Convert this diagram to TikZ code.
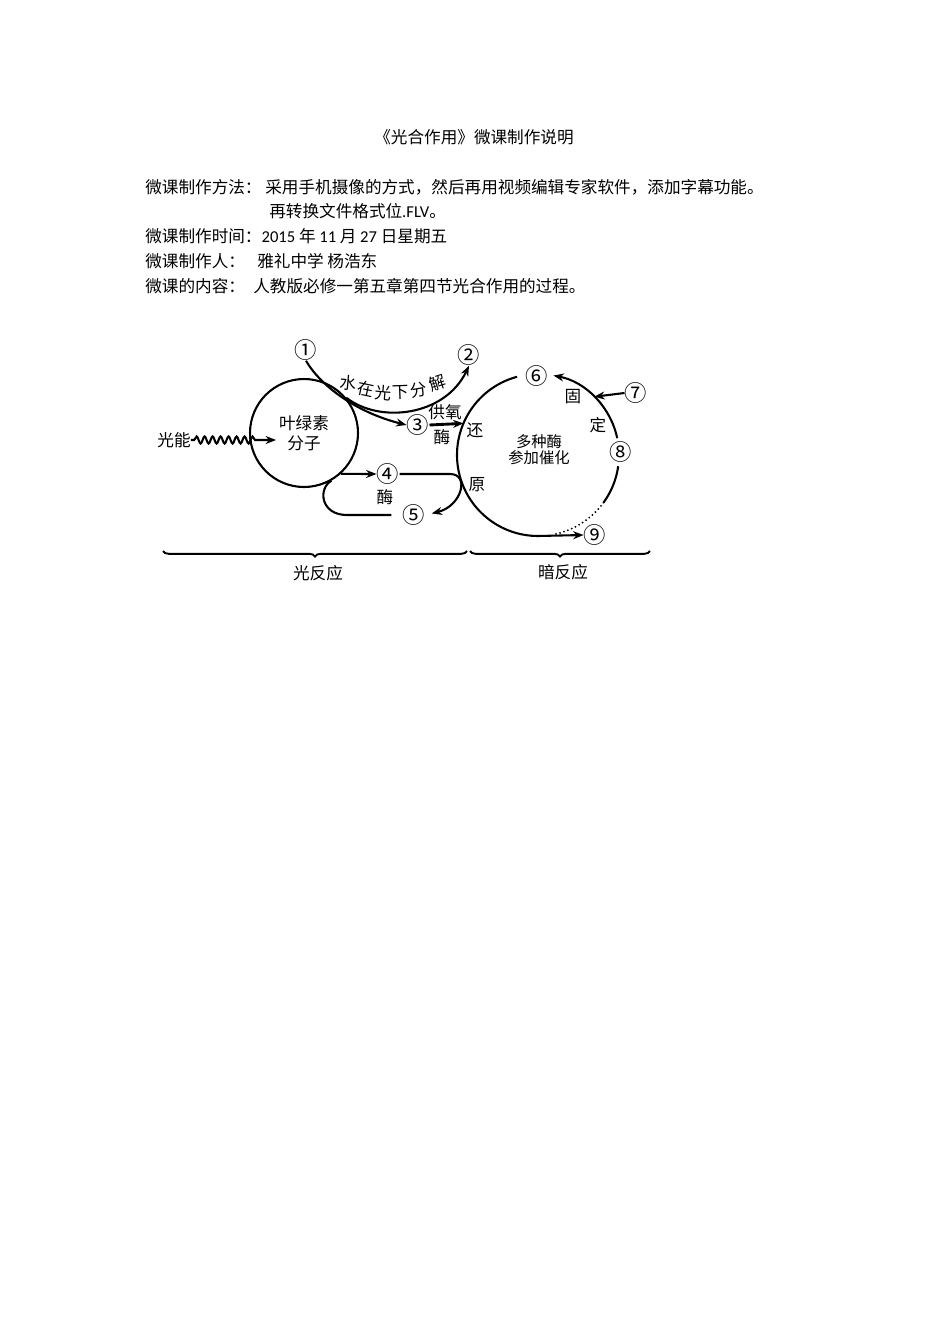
\documentclass[tikz,border=0pt]{standalone}
\usepackage{fontspec}
\setmainfont{Carlito}
\newfontfamily\cjk{Noto Sans CJK SC}
\usetikzlibrary{arrows.meta, decorations.pathmorphing, decorations.pathreplacing, positioning, calc}

\begin{document}
\begin{tikzpicture}[
    x=0.626pt, y=-0.626pt,
    every node/.style={font=\cjk\fontsize{10.4}{12.5}\selectfont, inner sep=0pt},
    line/.style={line width=1.3pt},
    arr/.style={line width=1.3pt, -{Stealth[length=6.5pt, width=5pt]}},
    num/.style={font=\cjk\fontsize{14}{14}\selectfont},
    txt/.style={anchor=west},
    small/.style={font=\cjk\fontsize{9.6}{10}\selectfont, align=center}
]
    \fill[white] (0,0) rectangle (950,1344);
    \useasboundingbox (0,0) rectangle (950,1344);

    % Header text
    \node (title) at (474,137) {《光合作用》微课制作说明};
    \node[txt] (mlab) at (145,187) {微课制作方法：};
    \node[txt] (mtxt) at (265,187) {采用手机摄像的方式，然后再用视频编辑专家软件，添加字幕功能。};
    \node[txt] (mtxt2) at (269,211) {再转换文件格式位{\rmfamily .FLV}。};
    \node[txt] (tlab) at (145,236) {微课制作时间：{\rmfamily 2015} 年 {\rmfamily 11} 月 {\rmfamily 27} 日星期五};
    \node[txt] (plab) at (145,261) {微课制作人：};
    \node[txt] (ptxt) at (257,261) {雅礼中学 杨浩东};
    \node[txt] (clab) at (145,286) {微课的内容：};
    \node[txt] (ctxt) at (253,286) {人教版必修一第五章第四节光合作用的过程。};

    % Nodes
    \node[circle, draw, line, minimum size=67.6pt, align=center] (chl) at (304,433) {叶绿素\\分子};
    \node[circle, minimum size=101.4pt, outer sep=0pt] (cyc) at (538,455) {};
    \node[small] (enz) at (539,450) {多种酶\\参加催化};
    \node (light) at (174,440) {光能};
    \coordinate (tip) at (276,440);

    \node[num] (n1) at (306,350) {①};
    \node[num] (n2) at (469,355) {②};
    \node[num] (n3) at (418,425) {③};
    \node[num] (n4) at (388,474) {④};
    \node[num] (n5) at (414,515) {⑤};
    \node[num] (n6) at (537,376) {⑥};
    \node[num] (n7) at (636,393) {⑦};
    \node[num] (n8) at (621,452) {⑧};
    \node[num] (n9) at (595,535) {⑨};

    \foreach \ch/\x/\y/\r [count=\i] in {水/348/383/-5, 在/366/389/-12, 光/383/393/-5,
        下/401/393/2, 分/419/390/10, 解/437/383/18}
        \node[rotate=\r] (w\i) at (\x,\y) {\ch};
    \node (oxy) at (445,412) {供氧};
    \node (enz1) at (442,437) {酶};
    \node (enz2) at (385,497) {酶};
    \node (red1) at (475,430) {还};
    \node (red2) at (477,485) {原};
    \node (fix1) at (573,397) {固};
    \node (fix2) at (598,425) {定};
    \node (lr) at (318,573) {光反应};
    \node (dr) at (563,572) {暗反应};

    % Edges
    \draw[arr, decorate, decoration={snake, segment length=5pt, amplitude=2.2pt,
        pre length=2pt, post length=13pt}] (light.east) -- (tip);
    \draw[arr] (n1.south) .. controls (320,385) and (355,412) .. (n3.west);
    \draw[arr] (chl.40) .. controls (380,424) and (445,416) .. (n2.south);
    \draw[arr, line width=1.8pt] (n3.east) -- (cyc.157);
    \draw[arr] (chl.-48) -- (n4.west);
    \draw[arr, shorten >=4pt] (n4.east) -- (450,474) .. controls (470,474) and (462,506) .. (n5.east);
    \draw[line, shorten <=7pt] (n5.west) -- (347,515) .. controls (320,515) and (318,488) .. (chl.-60);

    % Dark reaction cycle
    \draw[arr] (cyc.105) arc[start angle=105, end angle=270, radius=50.7pt] -- (n9.west);
    \draw[arr] (cyc.12) arc[start angle=12, end angle=79, radius=50.7pt];
    \draw[arr] (n7.west) -- (cyc.46);
    \draw[line] (cyc.-8) arc[start angle=-8, end angle=-36, radius=50.7pt];
    \draw[line width=1.3pt, line cap=round, dash pattern=on 0pt off 2.6pt]
        (cyc.-36) arc[start angle=-36, end angle=-78, radius=50.7pt];

    % Braces
    \coordinate (b1) at (163,551);
    \coordinate (b2) at (467,551);
    \coordinate (b3) at (470,551);
    \coordinate (b4) at (650,551);
    \draw[line width=1.2pt, decorate, decoration={brace, mirror, amplitude=3.5pt}] (b1) -- (b2);
    \draw[line width=1.2pt, decorate, decoration={brace, mirror, amplitude=3.5pt}] (b3) -- (b4);
\end{tikzpicture}
\end{document}
